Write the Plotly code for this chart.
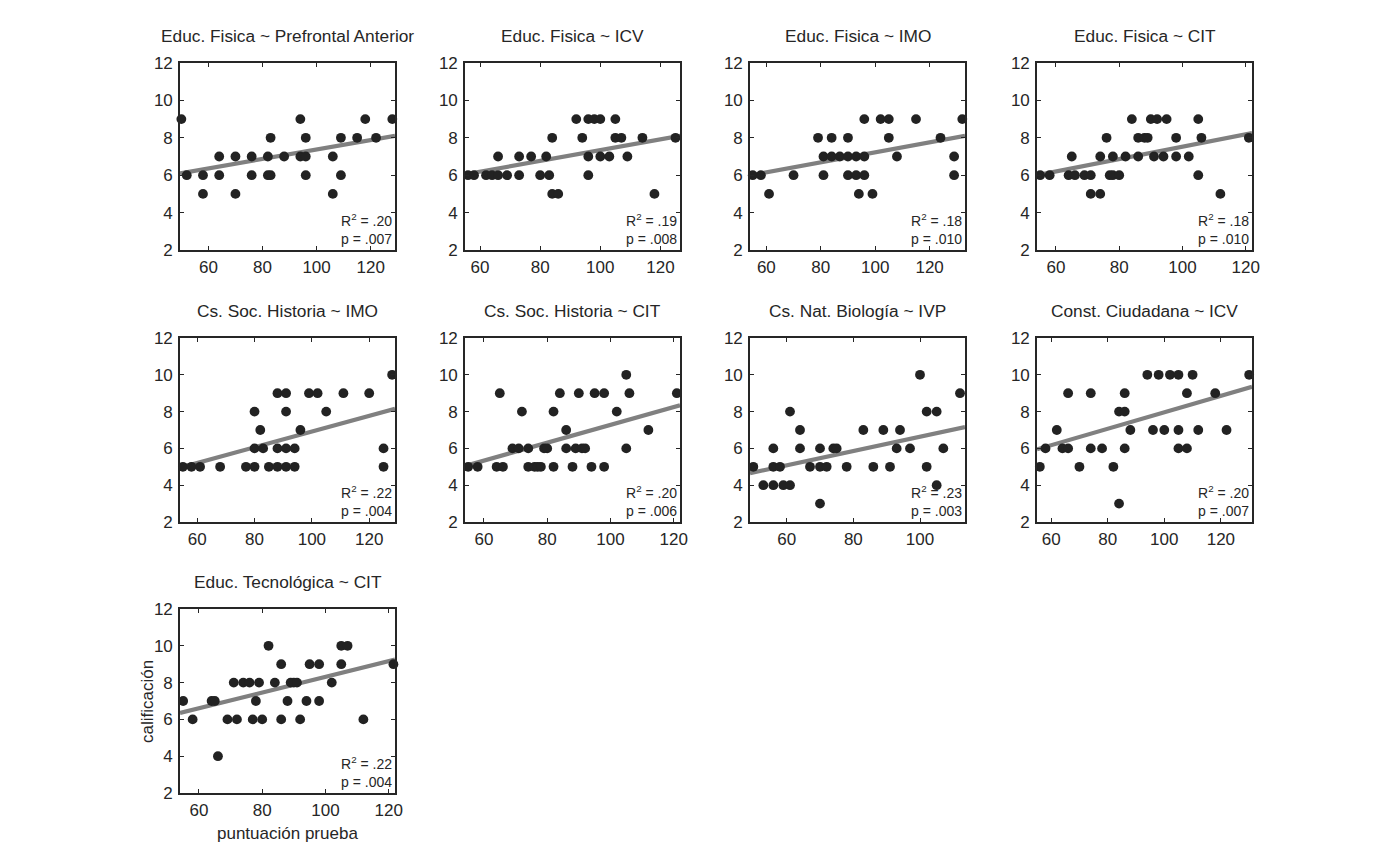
import plotly.graph_objects as go

W, H = 1386, 860

titles = [
    "Educ. Fisica ~ Prefrontal Anterior", "Educ. Fisica ~ ICV", "Educ. Fisica ~ IMO", "Educ. Fisica ~ CIT",
    "Cs. Soc. Historia ~ IMO", "Cs. Soc. Historia ~ CIT", "Cs. Nat. Biología ~ IVP", "Const. Ciudadana ~ ICV",
    "Educ. Tecnológica ~ CIT",
]

x1 = [50, 52, 58, 58, 64, 64, 70, 70, 76, 76, 82, 82, 83, 83, 88, 94, 94, 96, 96, 96, 106, 106, 109, 109, 115, 118, 122, 128]
y1 = [9, 6, 6, 5, 7, 6, 7, 5, 7, 6, 7, 6, 6, 8, 7, 9, 7, 7, 8, 6, 7, 5, 8, 6, 8, 9, 8, 9]

x2 = [56, 58, 62, 64, 66, 66, 69, 73, 73, 77, 80, 82, 83, 84, 84, 86, 92, 94, 96, 96, 96, 98, 100, 100, 103, 105, 105, 107, 109, 114, 118, 125]
y2 = [6, 6, 6, 6, 7, 6, 6, 7, 6, 7, 6, 7, 6, 8, 5, 5, 9, 8, 9, 7, 6, 9, 7, 9, 7, 9, 8, 8, 7, 8, 5, 8]

x3 = [55, 58, 61, 70, 79, 81, 81, 84, 84, 87, 90, 90, 90, 93, 93, 94, 96, 96, 96, 99, 102, 105, 105, 108, 115, 124, 129, 129, 132]
y3 = [6, 6, 5, 6, 8, 7, 6, 8, 7, 7, 8, 7, 6, 7, 6, 5, 9, 7, 6, 5, 9, 9, 8, 7, 9, 8, 7, 6, 9]

x4 = [55, 58, 64, 65, 66, 69, 71, 71, 74, 74, 76, 77, 78, 78, 80, 82, 84, 86, 86, 88, 89, 90, 91, 92, 94, 95, 98, 98, 102, 105, 105, 106, 112, 121]
y4 = [6, 6, 6, 7, 6, 6, 6, 5, 5, 7, 8, 6, 6, 7, 6, 7, 9, 8, 7, 8, 8, 9, 7, 9, 7, 9, 8, 7, 7, 9, 6, 8, 5, 8]

x5 = [55, 58, 61, 68, 77, 80, 80, 80, 82, 83, 85, 88, 88, 88, 91, 91, 91, 91, 94, 94, 96, 99, 102, 105, 111, 120, 125, 125, 128]
y5 = [5, 5, 5, 5, 5, 8, 6, 5, 7, 6, 5, 9, 6, 5, 9, 8, 6, 5, 6, 5, 7, 9, 9, 8, 9, 9, 6, 5, 10]

x6 = [55, 58, 64, 65, 66, 69, 71, 72, 74, 74, 76, 77, 78, 79, 80, 82, 82, 84, 86, 86, 88, 89, 90, 91, 92, 94, 95, 98, 98, 102, 105, 105, 106, 112, 121]
y6 = [5, 5, 5, 9, 5, 6, 6, 8, 5, 6, 5, 5, 5, 6, 6, 8, 5, 9, 7, 6, 5, 6, 9, 6, 6, 5, 9, 9, 5, 8, 10, 6, 9, 7, 9]

x7 = [50, 53, 56, 56, 56, 58, 59, 61, 61, 64, 64, 67, 70, 70, 70, 72, 74, 75, 78, 83, 86, 89, 91, 93, 94, 97, 100, 102, 102, 105, 105, 107, 112]
y7 = [5, 4, 6, 5, 4, 5, 4, 8, 4, 7, 6, 5, 6, 5, 3, 5, 6, 6, 5, 7, 5, 7, 5, 6, 7, 6, 10, 8, 5, 8, 4, 6, 9]

x8 = [56, 58, 62, 64, 66, 66, 70, 74, 74, 78, 82, 84, 84, 86, 86, 86, 88, 94, 96, 98, 100, 102, 105, 105, 105, 108, 108, 110, 112, 118, 122, 130]
y8 = [5, 6, 7, 6, 9, 6, 5, 9, 6, 6, 5, 8, 3, 9, 8, 6, 7, 10, 7, 10, 7, 10, 10, 7, 6, 9, 6, 10, 7, 9, 7, 10]

x9 = [55, 58, 64, 65, 66, 69, 71, 72, 74, 76, 77, 78, 79, 80, 82, 84, 86, 86, 88, 89, 90, 91, 92, 94, 95, 98, 98, 102, 105, 105, 107, 112, 121.5]
y9 = [7, 6, 7, 7, 4, 6, 8, 6, 8, 8, 6, 7, 8, 6, 10, 8, 9, 6, 7, 8, 8, 8, 6, 7, 9, 9, 7, 8, 10, 9, 10, 6, 9]

fit_slope = [0.0252, 0.0287, 0.0267, 0.0331, 0.0427, 0.0485, 0.0388, 0.0447, 0.0426]
fit_icept = [4.85, 4.47, 4.55, 4.21, 2.645, 2.43, 2.75, 3.49, 4.05]

r2_labels = [".20", ".19", ".18", ".18", ".22", ".20", ".23", ".20", ".22"]
p_labels = [".007", ".008", ".010", ".010", ".004", ".006", ".003", ".007", ".004"]

y_ticks = [2, 4, 6, 8, 10, 12]
x_ticks = [60, 80, 100, 120]
x_ticks_ivp = [60, 80, 100]

xs_all = [x1, x2, x3, x4, x5, x6, x7, x8, x9]
ys_all = [y1, y2, y3, y4, y5, y6, y7, y8, y9]

# axis layout (not data)
x_ranges = [[49.5, 129], [55, 126.5], [54, 133], [54, 122], [54, 129], [54, 122], [49, 113.5], [55, 131], [54, 122]]
col_left = [180, 465, 750, 1037]
row_top = [63, 338, 609]
row_h = [187, 184, 184]
pw = 215

FONT = "Liberation Sans, Arial, Helvetica, sans-serif"
TXT = "#262626"

fig = go.Figure()
layout = dict(
    autosize=True, margin=dict(l=0, r=0, t=0, b=0, autoexpand=False),
    paper_bgcolor="white", plot_bgcolor="white", showlegend=False,
    font=dict(family=FONT, color=TXT),
)
annotations = []

for i in range(9):
    r, c = divmod(i, 4)
    sfx = "" if i == 0 else str(i + 1)
    xa, ya = "x" + sfx, "y" + sfx
    xr = x_ranges[i]
    fig.add_trace(go.Scatter(
        x=xr, y=[fit_icept[i] + fit_slope[i] * v for v in xr], mode="lines",
        line=dict(color="#808080", width=4.2), xaxis=xa, yaxis=ya, hoverinfo="skip"))
    fig.add_trace(go.Scatter(
        x=xs_all[i], y=ys_all[i], mode="markers", cliponaxis=False,
        marker=dict(size=9.8, color="#222222", line=dict(width=0)), xaxis=xa, yaxis=ya))
    x0 = col_left[c] / W
    x1d = (col_left[c] + pw) / W
    ytop = 1 - row_top[r] / H
    ybot = 1 - (row_top[r] + row_h[r]) / H
    common = dict(showline=True, linecolor=TXT, linewidth=1.6, mirror="allticks",
                  ticks="inside", ticklen=4, tickwidth=1.2, tickcolor=TXT,
                  showgrid=False, zeroline=False,
                  tickfont=dict(family=FONT, size=17, color=TXT))
    layout["xaxis" + sfx] = dict(domain=[x0, x1d], range=xr, anchor=ya, ticklabelstandoff=1,
                                 tickvals=(x_ticks_ivp if i == 6 else x_ticks), **common)
    layout["yaxis" + sfx] = dict(domain=[ybot, ytop], range=[2, 12], anchor=xa, ticklabelstandoff=2,
                                 tickvals=y_ticks, **common)
    annotations.append(dict(
        text=titles[i], xref=xa + " domain", yref=ya + " domain", x=0.5, y=1,
        xanchor="center", yanchor="middle", yshift=27, showarrow=False,
        font=dict(family=FONT, size=17.3, color=TXT)))
    annotations.append(dict(
        text="R<sup>2</sup> = " + r2_labels[i] + "<br>p = " + p_labels[i],
        xref=xa + " domain", yref=ya + " domain", x=1, y=0, xanchor="right", yanchor="bottom",
        align="right", xshift=-1, yshift=1, showarrow=False,
        font=dict(family=FONT, size=14, color=TXT)))

annotations.append(dict(text="puntuación prueba", xref="x9 domain", yref="y9 domain", x=0.5, y=0,
                        xanchor="center", yanchor="middle", yshift=-40, showarrow=False,
                        font=dict(family=FONT, size=17, color=TXT)))
annotations.append(dict(text="calificación", xref="x9 domain", yref="y9 domain", x=0, y=0.5,
                        xanchor="center", yanchor="middle", xshift=-33, textangle=-90, showarrow=False,
                        font=dict(family=FONT, size=17, color=TXT)))

layout["annotations"] = annotations
fig.update_layout(**layout)
fig.write_html("out.html",
               config={"displayModeBar": False, "responsive": False},
               default_width="%dpx" % W,
               default_height="%dpx; position:fixed; top:0px; left:0px" % H)
